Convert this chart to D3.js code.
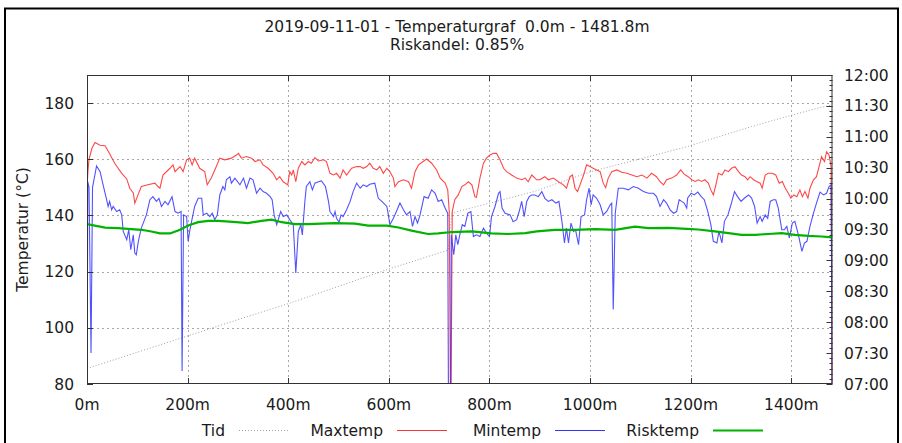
<!DOCTYPE html>
<html>
<head>
<meta charset="utf-8">
<script src="https://cdn.jsdelivr.net/npm/d3@7"></script>
<style>
  body { margin: 0; background: #fff; }
  text { font-family: "DejaVu Sans", sans-serif; fill: #1a1a1a; }
</style>
</head>
<body>
<script>
// distance (m) and temperature values
const maxDist = [0,2,4,10,16,26,36,45,55,69,79,85,92,95,100,108,121,135,141,145,151,165,171,175,185,191,198,204,209,214,224,234,239,247,257,264,274,287,297,301,307,317,327,334,344,350,360,370,377,383,390,399,403,407,410,415,420,427,433,440,446,453,460,470,476,483,490,496,503,509,516,526,536,543,549,556,562,569,576,582,589,596,602,609,612,619,629,639,645,652,659,668,675,685,695,702,712,717,720,723,726,731,738,745,751,758,765,771,774,781,788,794,801,808,814,821,828,834,844,854,864,871,877,884,894,900,910,917,927,937,947,953,960,965,970,975,980,987,993,1000,1006,1013,1020,1026,1031,1036,1043,1053,1063,1073,1083,1093,1103,1113,1122,1132,1139,1146,1152,1162,1172,1180,1187,1195,1202,1209,1215,1222,1228,1235,1240,1245,1250,1255,1262,1268,1275,1281,1288,1295,1301,1308,1313,1318,1325,1331,1338,1342,1348,1354,1362,1369,1376,1382,1388,1394,1399,1405,1411,1417,1422,1427,1433,1437,1444,1450,1456,1460,1466,1470,1475,1479,1481.8];
const maxTemp = [150,156,160,164,166,165,164.8,162,158.6,155,153,149.7,148,144.4,146.7,150.3,150.9,151.5,150.3,149.7,154.4,156.8,158,155.6,157.4,155.6,159.8,160.4,158,160.4,156.8,155.6,150.9,153.3,157.4,160.4,159.8,160.4,161.5,162.1,160.4,161,160.4,159.2,159.8,158,156.8,155,152.7,153.8,152,150.9,155.6,154.4,156.2,152,156.8,159.2,158,159.2,158.6,160.6,159.4,159.8,159.2,155,154.4,155,153.3,156.2,154.4,156.8,157.4,157.4,156.8,157.4,158.6,156.8,156.2,157.4,155,156.8,155.6,153.3,150.3,152,152.7,152,149.7,155.6,158,159.2,160.1,158.6,156.2,153.3,151.5,149.1,141.4,60,141.4,145.6,147.3,150.3,150.9,152,150.9,146.7,146.4,153.3,158.6,160.4,161.5,162.1,162.1,159.8,156.8,155.6,154.4,153.3,152.7,153.3,152,154.4,152.7,152.7,153.8,152.7,153.3,152,150.9,149.7,153.8,154.4,149.7,148.5,150.9,154.4,158,157.4,156.8,156.2,155.6,151.5,149.9,153.3,155.6,156.2,155.4,155,154.4,153.8,154.4,153.3,155,153.8,152,150.9,152.7,153.3,154.4,156.2,154.7,153.8,152.7,152.1,152.7,152.1,152.7,151.5,149.1,147.3,150.9,155,154.4,156.2,155.6,156.8,157.4,155.6,154.4,153.8,152.7,153.8,152.7,152.1,151.5,149.7,154.4,155,155,154.4,151.5,152.1,149.7,147.9,146.2,147.3,146.7,149.1,146.7,148.5,146.2,149.7,152.7,153.8,158,160.9,159.2,162.7,161.5,157.4,60];

const minDist = [0,1.5,4,8,11,19,26,32,39,42,45,49,52,59,65,69,72,79,83,87,92,95,98,102,108,118,125,131,138,143,148,155,161,169,175,181,187,189,192,198,201,204,208,214,221,228,231,238,244,249,254,259,264,270,274,277,284,287,294,304,311,317,324,330,337,344,350,357,364,368,372,377,381,385,390,397,403,410,415,420,425,428,433,436,443,448,453,460,466,474,480,483,490,493,496,501,505,509,516,523,529,536,543,549,556,562,572,579,586,596,599,602,609,615,622,629,635,642,647,652,657,662,670,678,685,692,698,705,712,717,719,722,724,729,733,737,741,746,751,757,763,768,774,781,788,794,800,804,811,818,821,825,831,841,847,854,859,864,869,874,879,884,890,897,904,910,917,924,932,938,944,949,953,957,962,967,971,977,982,989,993,998,1002,1006,1013,1020,1026,1033,1040,1043,1046,1050,1056,1066,1076,1086,1096,1106,1116,1126,1132,1139,1146,1152,1159,1166,1172,1177,1182,1187,1192,1194,1201,1207,1214,1221,1227,1234,1240,1245,1252,1256,1262,1267,1274,1280,1287,1293,1300,1307,1315,1321,1327,1332,1338,1342,1348,1353,1358,1364,1369,1374,1381,1386,1391,1396,1402,1407,1414,1421,1426,1431,1437,1444,1450,1457,1464,1470,1475,1479,1481.8];
const minTemp = [60,152,150,91,150,157.6,155.6,150.9,145.6,143.2,145,142,143.2,141.4,142,140.2,134.3,131.4,134.9,127.8,133.1,126.6,126,130.8,135.5,140.2,145.6,146.7,145,146.1,143.2,145,143.8,146.7,141.4,140.8,141.4,84.6,140.2,139.6,130.8,134.3,138,143.2,146.1,146.1,140.2,140.8,139.6,140.8,138.5,140.2,147.3,150.3,149.1,152.7,153.8,151.5,153.3,150.9,153.3,149.7,153.3,152.7,147.9,149.7,148.5,147.9,146.7,145.6,140.2,136.7,139,141.4,139.6,140.2,138.5,136.7,119.5,134.3,136.7,133.1,144.9,150.3,152,149.1,151.5,152,152.3,150.3,145,141.4,139.6,141.4,139,137.6,140.2,139.6,142,145,148.5,151.5,149.7,150.9,150.3,151.1,151.5,146.1,145,143.2,140.2,136.7,139,141.4,144.4,142,140.2,141.4,136.1,139.6,137.3,140.2,146.7,146.1,149.1,147.9,145,145.6,142.6,140.8,50,50,133.1,126,133.1,129.6,133.1,136.7,136.1,140.8,141.4,132.5,133.1,132.5,135.5,133.7,132.5,139.6,143.2,147.9,148.5,142.6,140.8,140.2,137.8,138.5,141.4,145,139.6,145,146.7,147.3,147.3,146.7,148.5,146.1,145,145.6,144.4,145,137.9,130.2,135.5,130.2,137.3,134.3,134.9,129.6,139.6,140.2,145.6,149.7,143.8,147.3,146.1,143.8,140.2,141.4,143.8,144.4,106.5,140.8,149.7,149.7,149.1,150.3,149.7,148.5,147.9,147.9,146.7,143.2,145.6,144.4,142,140.8,141.4,145.6,145,144.4,142.6,146.2,147.9,147.3,148.3,146.7,145.6,141.4,136.7,130.8,130.2,134.3,130.2,137.9,140.2,143.8,148.5,146.7,145,146.2,147.3,146.2,143.2,137.3,139.6,137.9,140.2,139,145,145.6,145.6,142.6,134.9,134.9,136.1,132,137.3,137.9,133.1,127.2,130.2,130.8,136.1,140.8,144.4,148.3,147.3,147.9,150.3,150.9,60];

const riskDist = [0,36,62,108,128,145,165,185,201,221,241,261,297,320,347,367,387,413,440,466,493,533,559,596,619,645,678,698,725,765,804,837,871,894,930,970,1010,1050,1089,1116,1156,1192,1215,1248,1275,1301,1328,1354,1381,1407,1434,1460,1481.8];
const riskTemp = [136.9,135.7,135.5,134.9,134.3,133.6,133.6,134.9,136.4,137.6,138.1,138.1,137.6,137.3,138.1,138.5,137.6,136.9,136.9,137.1,137.3,137.1,136.4,136.4,135.7,134.6,133.4,133.6,134.1,134.3,133.6,133.4,133.7,134.3,134.9,134.9,135.1,134.9,136,135.5,135.6,135.2,135,134.3,133.7,133.1,133.1,133.4,133.7,133.1,132.7,132.5,132.2];

const tidDist = [0,297,400,596,718,725,890,1000,1190,1255,1321,1401,1454,1481.8];
const tidTime = ["07:15","08:02","08:18","08:51","09:10","09:46","10:07","10:26","10:50","11:00","11:10","11:21","11:28","11:31"];

const xTicks = [0,200,400,600,800,1000,1200,1400];
const yTicks = [80,100,120,140,160,180];
const timeTicks = ["07:00","07:30","08:00","08:30","09:00","09:30","10:00","10:30","11:00","11:30","12:00"];

const width = 902, height = 443;
const margin = {top: 75, right: 70, bottom: 59, left: 87};
const parseTime = d3.timeParse("%H:%M");

const svg = d3.select('body').append('svg').attr('width', width).attr('height', height);

// outer frame
svg.append('rect').attr('x', 5).attr('y', 8.5).attr('width', 893).attr('height', 450)
   .attr('fill', 'none').attr('stroke', '#000').attr('stroke-width', 2);

const x = d3.scaleLinear().domain([0, 1481.8]).range([margin.left, width - margin.right + 0.5]);
const y = d3.scaleLinear().domain([80, 190]).range([height - margin.bottom, margin.top]);
const y2 = d3.scaleTime().domain([parseTime("07:00"), parseTime("12:00")]).range([height - margin.bottom, margin.top]);

const x0 = margin.left, x1 = width - margin.right + 0.5, yb = height - margin.bottom, yt = margin.top;

// grid
const grid = svg.append('g').attr('stroke', '#a8a8a8').attr('stroke-dasharray', '2,3').attr('stroke-width', 1);
grid.selectAll('.hg').data(yTicks.filter(d => d > 80)).join('line')
    .attr('x1', x0).attr('x2', x1).attr('y1', d => Math.round(y(d)) + 0.5).attr('y2', d => Math.round(y(d)) + 0.5);
grid.selectAll('.vg').data(xTicks.filter(d => d > 0)).join('line')
    .attr('y1', yt).attr('y2', yb).attr('x1', d => Math.round(x(d)) + 0.5).attr('x2', d => Math.round(x(d)) + 0.5);

svg.append('clipPath').attr('id', 'clip').append('rect')
   .attr('x', x0).attr('y', yt).attr('width', x1 - x0).attr('height', yb - yt);
const plot = svg.append('g').attr('clip-path', 'url(#clip)');

const zip = (xs, ys) => xs.map((d, i) => [d, ys[i]]);

// Tid on the right axis
plot.append('path').datum(zip(tidDist, tidTime.map(parseTime)))
    .attr('fill', 'none').attr('stroke', '#a0a0a0').attr('stroke-width', 1).attr('stroke-dasharray', '1,2')
    .attr('d', d3.line().x(d => x(d[0])).y(d => y2(d[1])));

const line = d3.line().x(d => x(d[0])).y(d => y(d[1]));
plot.append('path').datum(zip(maxDist, maxTemp))
    .attr('fill', 'none').attr('stroke', '#ff3333').attr('stroke-opacity', 0.9).attr('stroke-width', 1.1).attr('d', line);
plot.append('path').datum(zip(minDist, minTemp))
    .attr('fill', 'none').attr('stroke', '#3333ff').attr('stroke-opacity', 0.85).attr('stroke-width', 1.1).attr('d', line);
plot.append('path').datum(zip(riskDist, riskTemp))
    .attr('fill', 'none').attr('stroke', '#00b300').attr('stroke-width', 2.2).attr('d', line);

// border and inward ticks
svg.append('rect').attr('x', x0 + 0.5).attr('y', yt + 0.5).attr('width', x1 - x0 - 1).attr('height', yb - yt - 1)
   .attr('fill', 'none').attr('stroke', '#333').attr('stroke-width', 1);

const ticks = svg.append('g').attr('stroke', '#333').attr('stroke-width', 1);
xTicks.forEach(d => {
  const px = Math.round(x(d)) + 0.5;
  ticks.append('line').attr('x1', px).attr('x2', px).attr('y1', yb).attr('y2', yb - 6);
  ticks.append('line').attr('x1', px).attr('x2', px).attr('y1', yt).attr('y2', yt + 6);
});
yTicks.forEach(d => {
  const py = Math.round(y(d)) + 0.5;
  ticks.append('line').attr('x1', x0).attr('x2', x0 + 6).attr('y1', py).attr('y2', py);
});
// right axis: major every 30 min, minor every 5 min
d3.timeMinute.every(5).range(parseTime("07:00"), d3.timeMinute.offset(parseTime("12:00"), 1)).forEach(t => {
  const py = Math.round(y2(t)) + 0.5;
  const major = t.getMinutes() % 30 === 0;
  ticks.append('line').attr('x1', x1).attr('x2', x1 - (major ? 6 : 3)).attr('y1', py).attr('y2', py);
});

// tick labels
svg.selectAll('.yl').data(yTicks).join('text')
   .attr('x', 74).attr('y', d => y(d) + 5.5).attr('text-anchor', 'end').attr('font-size', 15.5).text(d => d);
svg.selectAll('.xl').data(xTicks).join('text')
   .attr('x', d => x(d)).attr('y', 410).attr('text-anchor', 'middle').attr('font-size', 15.5).text(d => d + 'm');
svg.selectAll('.tl').data(timeTicks).join('text')
   .attr('x', 844).attr('y', d => y2(parseTime(d)) + 5.5).attr('font-size', 15.5).text(d => d);

// y label
svg.append('text').attr('transform', 'translate(28,' + ((yt + yb) / 2) + ') rotate(-90)')
   .attr('text-anchor', 'middle').attr('font-size', 15.5).text('Temperatur (°C)');

// title
svg.append('text').attr('x', 457).attr('y', 32).attr('text-anchor', 'middle').attr('font-size', 15.5)
   .text('2019-09-11-01 - Temperaturgraf\u00a0\u00a00.0m - 1481.8m');
svg.append('text').attr('x', 457).attr('y', 50).attr('text-anchor', 'middle').attr('font-size', 15.5)
   .text('Riskandel: 0.85%');

// legend
const legendNames = ['Tid', 'Maxtemp', 'Mintemp', 'Risktemp'];
const legendColors = ['#a0a0a0', '#ff3333', '#3333ff', '#00b300'];
const legendStart = [239, 397, 555, 713];
const lg = svg.append('g');
legendNames.forEach((name, i) => {
  lg.append('text').attr('x', legendStart[i] - 14).attr('y', 436).attr('text-anchor', 'end')
    .attr('font-size', 15.5).text(name);
  lg.append('line').attr('x1', legendStart[i]).attr('x2', legendStart[i] + 50).attr('y1', 430.5).attr('y2', 430.5)
    .attr('stroke', legendColors[i]).attr('stroke-width', i === 3 ? 2.2 : 1.1)
    .attr('stroke-dasharray', i === 0 ? '1,2' : null);
});
</script>
</body>
</html>
